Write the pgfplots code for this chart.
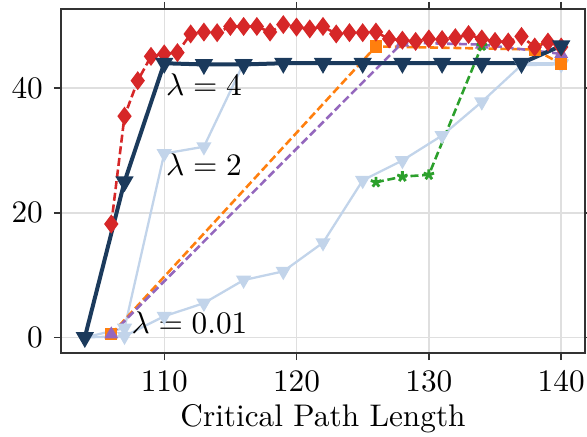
\documentclass[border=0pt]{standalone}
\usepackage{pgfplots}
\pgfplotsset{compat=1.18}
\definecolor{cred}{HTML}{D62728}
\definecolor{cnavy}{HTML}{1B3A5C}
\definecolor{clight}{HTML}{C2D4EA}
\definecolor{corange}{HTML}{FF7F0E}
\definecolor{cpurple}{HTML}{9467BD}
\definecolor{cgreen}{HTML}{2CA02C}
\begin{document}
\fontsize{10.95}{13.6}\selectfont
\begin{tikzpicture}
\begin{axis}[
  at={(0,0)}, anchor=south west,
  scale only axis, width=183.4pt, height=120.4pt,
  xmin=102.2, xmax=141.8, ymin=-2.5, ymax=52.7,
  xtick={110,120,130,140}, ytick={0,20,40},
  grid=major, major grid style={gray!25, line width=0.5pt},
  axis line style={black!80, line width=0.6pt},
  tick align=outside, tick style={black!80, line width=0.5pt},
  major tick length=2.5pt,
  xlabel={Critical Path Length},
  xlabel style={yshift=3pt},
  clip=false,
]
% lambda = 2 (light)
\addplot[clight, line width=0.8pt, mark=triangle*, mark size=2.3pt, mark options={rotate=180, fill=clight, draw=clight}] coordinates {
(104,0) (107,1.5) (110,29.5) (113,30.6) (116,44) (119,44) (122,44) (125,44) (128,44) (131,44) (134,44) (137,44) (140,44)};
% lambda = 0.01 (light)
\addplot[clight, line width=0.8pt, mark=triangle*, mark size=2.3pt, mark options={rotate=180, fill=clight, draw=clight}] coordinates {
(104,0) (107,0.2) (110,3.4) (113,5.5) (116,9.2) (119,10.6) (122,15.2) (125,25.2) (128,28.4) (131,32.4) (134,37.8) (137,43.7) (140,43.8)};
% orange
\addplot[corange, line width=0.9pt, dash pattern=on 2.8pt off 1.3pt, mark=square*, mark size=1.7pt, mark options={solid, fill=corange}] coordinates {
(106,0.5) (126,46.7) (138,46.2) (140,43.9)};
% purple
\addplot[cpurple, line width=0.9pt, dash pattern=on 2.8pt off 1.3pt, mark=triangle*, mark size=1.9pt, mark options={solid, fill=cpurple}] coordinates {
(106,0.5) (128,47.3) (134,47) (140,45.5)};
% green
\addplot[cgreen, line width=0.9pt, dash pattern=on 2.8pt off 1.3pt, mark=star, mark size=1.9pt, mark options={solid, line width=1pt}] coordinates {
(126,24.9) (128,25.8) (130,26.1) (134,46.8)};
% red
\addplot[cred, line width=0.9pt, dash pattern=on 2.8pt off 1.3pt, mark=diamond*, mark size=2.6pt, mark options={solid, fill=cred}] coordinates {
(106,18.2) (107,35.5) (108,41.2) (109,45.1) (110,45.5) (111,45.7) (112,48.7) (113,49.0) (114,48.9) (115,49.9) (116,49.9) (117,49.9) (118,49.0) (119,50.2) (120,49.8) (121,49.5) (122,49.9) (123,48.7) (124,48.9) (125,48.9) (126,49.0) (127,47.9) (128,47.7) (129,47.5) (130,47.9) (131,47.8) (132,48.1) (133,48.6) (134,47.9) (135,47.5) (136,47.4) (137,48.3) (138,46.6) (139,47.4) (140,46.6)};
% lambda = 4 (navy)
\addplot[cnavy, line width=1.4pt, mark=triangle*, mark size=2.3pt, mark options={rotate=180, fill=cnavy}] coordinates {
(104,0) (107,25) (110,44) (113,43.8) (116,43.8) (119,44) (122,44) (125,44) (128,44) (131,44) (134,44) (137,44) (140,46.8)};
\node[anchor=west, inner sep=0pt] at (axis cs:110.1,40.5) {$\lambda = 4$};
\node[anchor=west, inner sep=0pt] at (axis cs:110.1,27.7) {$\lambda = 2$};
\node[anchor=west, inner sep=0pt] at (axis cs:107.5,2.4) {$\lambda = 0.01$};
\end{axis}
\pgfresetboundingbox
\path (-21.35pt,-29.05pt) rectangle (184.1pt,123.55pt);
\end{tikzpicture}
\end{document}
